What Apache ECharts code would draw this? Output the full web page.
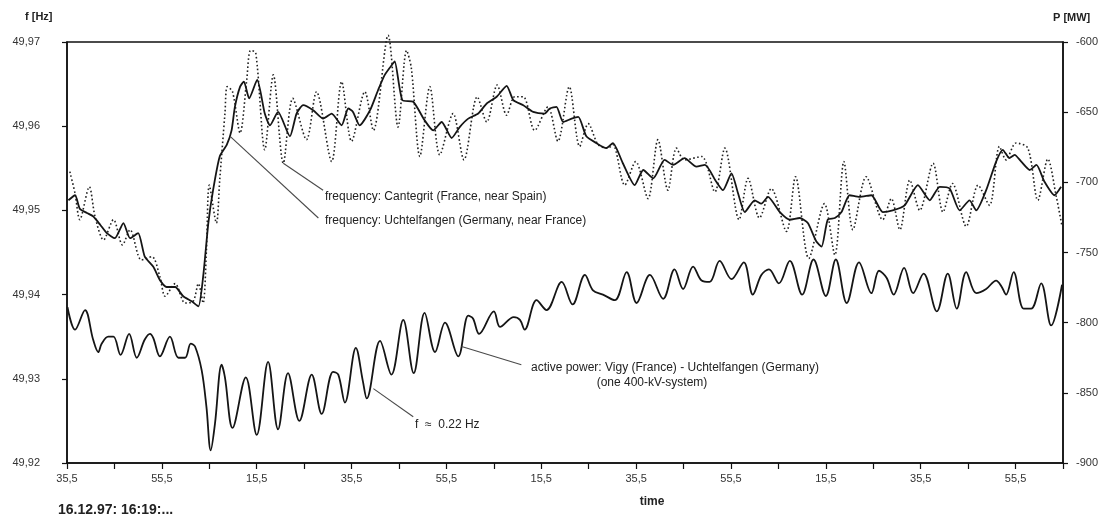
<!DOCTYPE html>
<html>
<head>
<meta charset="utf-8">
<script src="https://cdn.jsdelivr.net/npm/echarts@6/dist/echarts.min.js"></script>
<style>
html,body{margin:0;padding:0;background:#fff;}
#chart{width:1107px;height:516px;}
</style>
</head>
<body>
<div id="chart"></div>
<script>
// time in seconds after 16:19:35,5 (16.12.97)
const xTickLabels = ['35,5','','55,5','','15,5','','35,5','','55,5','','15,5','','35,5','','55,5','','15,5','','35,5','','55,5',''];

// frequency: Cantegrit (France, near Spain) [t s, f Hz] - dotted
const freqCantegrit = [
[0.6,49.9546],[1.7,49.9520],[2.7,49.9489],[4.7,49.9528],[5.9,49.9493],[7.7,49.9465],[9.8,49.9489],[11.7,49.9459],[13.3,49.9477],[15.7,49.9441],[17.9,49.9445],[19.6,49.9421],[20.7,49.9398],[22.8,49.9413],[24.9,49.9390],[26.6,49.9392],[27.7,49.9413],[28.7,49.9390],[29.4,49.9453],[30.0,49.9530],[31.5,49.9485],[32.2,49.9536],[33.3,49.9615],[33.8,49.9647],[34.9,49.9641],[36.5,49.9592],[37.9,49.9655],[38.7,49.9690],[39.8,49.9687],[41.7,49.9572],[43.5,49.9661],[45.6,49.9556],[47.6,49.9633],[50.5,49.9584],[52.6,49.9641],[55.8,49.9558],[57.9,49.9653],[60.0,49.9582],[62.8,49.9641],[64.6,49.9595],[67.7,49.9708],[69.8,49.9599],[71.6,49.9690],[72.6,49.9669],[74.4,49.9564],[76.5,49.9647],[78.6,49.9566],[81.4,49.9615],[83.7,49.9560],[86.5,49.9635],[88.5,49.9605],[90.7,49.9649],[92.7,49.9613],[94.4,49.9635],[96.2,49.9635],[98.6,49.9595],[101.4,49.9623],[103.5,49.9582],[105.9,49.9647],[108.1,49.9576],[109.9,49.9603],[112.0,49.9578],[114.1,49.9574],[115.1,49.9578],[117.6,49.9530],[119.9,49.9558],[122.5,49.9514],[124.6,49.9584],[126.7,49.9524],[128.5,49.9574],[130.2,49.9560],[133.8,49.9564],[136.6,49.9522],[138.7,49.9574],[141.7,49.9489],[143.6,49.9538],[146.0,49.9491],[148.5,49.9526],[151.7,49.9475],[153.6,49.9540],[156.4,49.9443],[159.7,49.9508],[161.9,49.9447],[163.8,49.9558],[165.7,49.9477],[168.5,49.9540],[172.0,49.9489],[173.8,49.9514],[175.6,49.9477],[177.7,49.9536],[179.8,49.9500],[182.6,49.9556],[184.7,49.9498],[186.7,49.9532],[189.6,49.9481],[192.1,49.9530],[194.5,49.9506],[196.6,49.9576],[198.0,49.9560],[200.1,49.9580],[202.6,49.9574],[204.7,49.9512],[206.8,49.9561],[208.6,49.9516],[209.8,49.9481]
];

// frequency: Uchtelfangen (Germany, near France) [t s, f Hz] - solid
const freqUchtelfangen = [
[0.3,49.9512],[1.7,49.9518],[2.7,49.9502],[4.2,49.9497],[5.5,49.9493],[7.0,49.9483],[8.4,49.9473],[10.1,49.9467],[11.9,49.9485],[13.3,49.9467],[15.0,49.9473],[16.4,49.9445],[18.2,49.9433],[19.6,49.9417],[21.0,49.9409],[22.8,49.9409],[24.5,49.9398],[26.3,49.9392],[27.7,49.9386],[28.7,49.9421],[29.8,49.9485],[30.8,49.9524],[32.2,49.9564],[33.7,49.9578],[34.7,49.9595],[35.4,49.9623],[36.5,49.9647],[37.3,49.9653],[38.4,49.9633],[40.1,49.9655],[41.7,49.9615],[42.8,49.9601],[44.5,49.9617],[47.0,49.9588],[48.4,49.9615],[49.8,49.9625],[51.9,49.9619],[54.0,49.9609],[55.8,49.9615],[57.9,49.9601],[59.3,49.9621],[60.3,49.9617],[61.7,49.9601],[63.9,49.9619],[65.6,49.9643],[67.0,49.9661],[68.8,49.9675],[69.1,49.9677],[70.7,49.9631],[73.0,49.9629],[75.4,49.9607],[77.2,49.9595],[79.0,49.9605],[81.1,49.9586],[82.8,49.9599],[84.6,49.9609],[86.7,49.9615],[88.5,49.9627],[90.6,49.9635],[92.7,49.9648],[94.1,49.9631],[96.2,49.9625],[98.3,49.9617],[100.7,49.9615],[101.8,49.9621],[103.2,49.9623],[104.6,49.9605],[106.4,49.9609],[107.8,49.9611],[109.5,49.9588],[111.6,49.9580],[113.7,49.9574],[115.1,49.9580],[117.2,49.9556],[119.7,49.9530],[121.5,49.9548],[123.6,49.9538],[126.0,49.9560],[127.8,49.9554],[130.2,49.9562],[132.7,49.9552],[134.5,49.9554],[136.9,49.9534],[138.3,49.9524],[140.1,49.9544],[141.5,49.9520],[142.9,49.9498],[145.0,49.9512],[146.4,49.9508],[147.8,49.9516],[150.3,49.9498],[152.4,49.9489],[154.5,49.9491],[156.2,49.9485],[158.0,49.9463],[159.1,49.9457],[160.4,49.9489],[161.9,49.9491],[163.3,49.9498],[165.0,49.9518],[167.1,49.9516],[169.6,49.9518],[172.0,49.9498],[174.1,49.9500],[176.6,49.9506],[179.4,49.9530],[181.9,49.9512],[184.0,49.9528],[186.1,49.9526],[188.2,49.9500],[190.3,49.9512],[191.7,49.9500],[193.8,49.9524],[195.9,49.9558],[197.3,49.9572],[198.7,49.9562],[199.8,49.9566],[201.2,49.9558],[203.0,49.9548],[204.4,49.9554],[206.1,49.9534],[208.2,49.9518],[209.6,49.9528]
];

// active power: Vigy (France) - Uchtelfangen (Germany) [t s, P MW]
const powerVigyUchtelfangen = [
[0.1,-789],[1.7,-805],[3.8,-791],[5.5,-812],[6.6,-821],[7.3,-815],[8.7,-810],[9.8,-810],[11.3,-823],[13.1,-808],[14.7,-825],[16.4,-812],[17.5,-808],[18.2,-811],[19.6,-824],[21.7,-810],[23.5,-825],[24.9,-825],[26.1,-815],[27.0,-817],[28.4,-834],[29.4,-860],[30.3,-891],[31.2,-872],[32.6,-830],[33.3,-839],[34.9,-875],[37.7,-839],[40.0,-880],[42.4,-828],[44.5,-876],[46.6,-836],[49.0,-870],[51.6,-837],[53.7,-865],[56.1,-835],[57.2,-837],[58.6,-857],[60.9,-818],[62.4,-842],[63.2,-854],[66.0,-813],[68.4,-837],[70.9,-798],[73.1,-836],[75.4,-793],[77.6,-821],[79.7,-800],[82.5,-824],[84.6,-795],[85.6,-797],[86.9,-808],[90.0,-792],[91.3,-803],[94.2,-796],[95.5,-798],[96.5,-805],[99.0,-784],[101.1,-791],[104.3,-771],[106.6,-787],[109.2,-766],[110.9,-777],[113.0,-780],[115.5,-784],[118.0,-764],[120.1,-786],[122.9,-766],[125.7,-783],[128.1,-762],[129.9,-776],[132.0,-760],[133.8,-770],[135.5,-771],[137.6,-756],[140.1,-769],[142.7,-757],[144.6,-780],[146.4,-766],[148.0,-762],[150.1,-772],[152.4,-756],[155.0,-780],[157.4,-755],[160.0,-781],[162.1,-755],[164.4,-786],[167.0,-757],[169.6,-779],[171.2,-763],[172.8,-768],[174.3,-780],[176.5,-761],[178.4,-779],[180.6,-765],[183.4,-792],[185.7,-765],[187.6,-790],[189.6,-764],[191.7,-779],[193.8,-776],[195.9,-770],[197.0,-774],[198.0,-780],[199.6,-764],[201.7,-790],[203.3,-790],[205.4,-772],[207.5,-802],[209.8,-773]
];

const FONT = 'Liberation Sans, Arial, sans-serif';
const chart = echarts.init(document.getElementById('chart'), null, {renderer: 'canvas'});

function leader(coords) {
  return {
    silent: true,
    symbol: ['none', 'none'],
    label: {show: false},
    lineStyle: {color: '#4a4a4a', width: 1.1, type: 'solid'},
    emphasis: {disabled: true},
    animation: false,
    data: coords.map(c => [{coord: c[0]}, {coord: c[1]}])
  };
}

const option = {
  animation: false,
  backgroundColor: '#fff',
  grid: {left: 67, right: 44, top: 42, bottom: 53, show: true, borderColor: '#111', borderWidth: 1.5, backgroundColor: 'transparent'},
  xAxis: {
    type: 'value', min: 0, max: 210, interval: 10,
    axisLine: {show: true, lineStyle: {color: '#111', width: 1.5}},
    axisTick: {show: true, length: 6, lineStyle: {color: '#111', width: 1.2}},
    splitLine: {show: false},
    axisLabel: {margin: 10, fontSize: 11, fontFamily: FONT, color: '#333',
      formatter: v => xTickLabels[Math.round(v / 10)] || ''}
  },
  yAxis: [
    {
      type: 'value', min: 49.92, max: 49.97, interval: 0.01, position: 'left',
      axisLine: {show: true, lineStyle: {color: '#111', width: 1.5}},
      axisTick: {show: true, length: 5, lineStyle: {color: '#111', width: 1.2}},
      splitLine: {show: false},
      axisLabel: {margin: 27, fontSize: 11, fontFamily: FONT, color: '#333',
        formatter: v => v.toFixed(2).replace('.', ',')}
    },
    {
      type: 'value', min: -900, max: -600, interval: 50, position: 'right',
      axisLine: {show: true, lineStyle: {color: '#111', width: 1.5}},
      axisTick: {show: true, length: 5, lineStyle: {color: '#111', width: 1.2}},
      splitLine: {show: false},
      axisLabel: {margin: 13, fontSize: 11, fontFamily: FONT, color: '#333'}
    }
  ],
  series: [
    {
      name: 'frequency: Cantegrit (France, near Spain)',
      type: 'line', yAxisIndex: 0, data: freqCantegrit, showSymbol: false, symbol: 'none',
      smooth: 0.3, clip: false, z: 2,
      lineStyle: {color: '#222', width: 1.6, type: [1.6, 2.4]},
      markLine: leader([[[45.6, 49.9556], [54.0, 49.9524]]])
    },
    {
      name: 'frequency: Uchtelfangen (Germany, near France)',
      type: 'line', yAxisIndex: 0, data: freqUchtelfangen, showSymbol: false, symbol: 'none',
      smooth: 0.2, z: 3,
      lineStyle: {color: '#151515', width: 1.8},
      markLine: leader([[[34.4, 49.9588], [53.0, 49.9491]]])
    },
    {
      name: 'active power: Vigy (France) - Uchtelfangen (Germany)',
      type: 'line', yAxisIndex: 1, data: powerVigyUchtelfangen, showSymbol: false, symbol: 'none',
      smooth: 0.35, z: 3,
      lineStyle: {color: '#151515', width: 1.8},
      markLine: leader([[[83.2, -817], [95.8, -830]], [[64.6, -847], [73.0, -867]]])
    }
  ],
  graphic: [
    {type: 'text', x: 25, y: 17, style: {text: 'f [Hz]', font: 'bold 11px ' + FONT, fill: '#222', verticalAlign: 'middle'}},
    {type: 'text', x: 1053, y: 18, style: {text: 'P [MW]', font: 'bold 11px ' + FONT, fill: '#222', verticalAlign: 'middle'}},
    {type: 'text', x: 652, y: 502, style: {text: 'time', font: 'bold 12px ' + FONT, fill: '#222', align: 'center', verticalAlign: 'middle'}},
    {type: 'text', x: 58, y: 510, style: {text: '16.12.97: 16:19:...', font: 'bold 14px ' + FONT, fill: '#222', verticalAlign: 'middle'}},
    {type: 'text', x: 325, y: 197, style: {text: 'frequency: Cantegrit (France, near Spain)', font: '12px ' + FONT, fill: '#222', verticalAlign: 'middle'}},
    {type: 'text', x: 325, y: 221, style: {text: 'frequency: Uchtelfangen (Germany, near France)', font: '12px ' + FONT, fill: '#222', verticalAlign: 'middle'}},
    {type: 'text', x: 531, y: 368, style: {text: 'active power: Vigy (France) - Uchtelfangen (Germany)', font: '12px ' + FONT, fill: '#222', verticalAlign: 'middle'}},
    {type: 'text', x: 652, y: 383, style: {text: '(one 400-kV-system)', font: '12px ' + FONT, fill: '#222', align: 'center', verticalAlign: 'middle'}},
    {type: 'text', x: 415, y: 425, style: {text: 'f  \u2248  0.22 Hz', font: '12px ' + FONT, fill: '#222', verticalAlign: 'middle'}}
  ]
};
chart.setOption(option);
</script>
</body>
</html>
